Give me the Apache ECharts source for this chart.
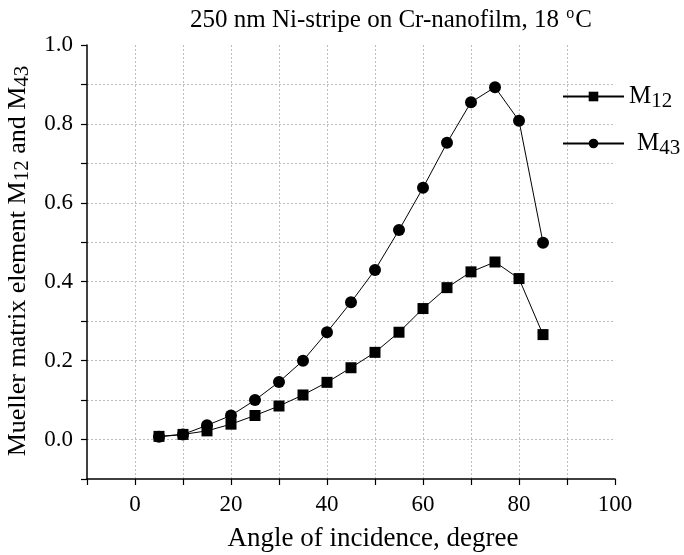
<!DOCTYPE html>
<html>
<head>
<meta charset="utf-8">
<script src="https://cdn.jsdelivr.net/npm/echarts@6/dist/echarts.min.js"></script>
<style>
  html, body { margin: 0; padding: 0; background: #fff; }
  #chart { width: 684px; height: 555px; }
</style>
</head>
<body>
<div id="chart"></div>
<script>
// angle of incidence, degree
const angles = [5, 10, 15, 20, 25, 30, 35, 40, 45, 50, 55, 60, 65, 70, 75, 80, 85];
// Mueller matrix elements
const m12 = [0.008, 0.013, 0.022, 0.039, 0.061, 0.085, 0.113, 0.145, 0.182, 0.221, 0.272, 0.332, 0.385, 0.425, 0.450, 0.408, 0.266];
const m43 = [0.007, 0.013, 0.036, 0.061, 0.100, 0.146, 0.200, 0.272, 0.348, 0.430, 0.531, 0.638, 0.752, 0.855, 0.893, 0.808, 0.499];

const font = "Liberation Serif";

function pairs(ys) {
  return angles.map((x, i) => [x, ys[i]]);
}

const chart = echarts.init(document.getElementById("chart"));
const option = {
  backgroundColor: "#fff",
  animation: false,
  title: {
    text: "250 nm Ni-stripe on Cr-nanofilm, 18 {sup|o}C",
    left: 386,
    top: 1,
    textAlign: "center",
    textStyle: {
      fontFamily: font,
      fontSize: 25,
      fontWeight: "normal",
      color: "#000",
      rich: {
        sup: { fontFamily: font, fontSize: 16, color: "#000", verticalAlign: "top", padding: [0, 1, 12, 1] }
      }
    }
  },
  legend: {
    orient: "vertical",
    left: 562,
    top: 84,
    padding: 0,
    itemWidth: 61,
    itemHeight: 12,
    itemGap: 19,
    data: ["M12", "M43"],
    formatter: function (name) {
      const sub = name.slice(1);
      return (name === "M43" ? "{p|}" : "") + "{m|M}{s|" + sub + "}";
    },
    textStyle: {
      fontFamily: font,
      color: "#000",
      rich: {
        p: { width: 8 },
        m: { fontFamily: font, fontSize: 25, color: "#000", lineHeight: 30 },
        s: { fontFamily: font, fontSize: 21, color: "#000", verticalAlign: "bottom", padding: [10, 0, 0, 0] }
      }
    }
  },
  grid: {
    left: 87,
    right: 69,
    top: 45,
    bottom: 76,
    outerBoundsMode: "none"
  },
  xAxis: {
    type: "value",
    min: -10,
    max: 100,
    interval: 10,
    name: "Angle of incidence, degree",
    nameLocation: "middle",
    nameGap: 46,
    nameTextStyle: { fontFamily: font, fontSize: 27, color: "#000", padding: [0, 0, 0, 44] },
    axisLine: { onZero: false, lineStyle: { color: "#000", width: 1.5 } },
    axisTick: { length: 6, lineStyle: { color: "#000", width: 1.2 } },
    axisLabel: {
      fontFamily: font,
      fontSize: 23,
      color: "#000",
      margin: 14,
      formatter: function (v) {
        return (v >= 0 && Math.round(v) % 20 === 0) ? String(v) : "";
      }
    },
    splitLine: {
      show: true,
      showMinLine: false,
      showMaxLine: false,
      lineStyle: { color: "#bdbdbd", type: [2, 2], width: 1 }
    }
  },
  yAxis: {
    type: "value",
    min: -0.1,
    max: 1.0,
    interval: 0.1,
    name: "{a|Mueller matrix element M}{s|12}{a| and M}{s|43}",
    nameLocation: "middle",
    nameRotate: 90,
    nameGap: 51,
    nameTextStyle: {
      color: "#000",
      padding: [0, 0, 0, 2],
      rich: {
        a: { fontFamily: font, fontSize: 26, color: "#000", lineHeight: 30 },
        s: { fontFamily: font, fontSize: 21, color: "#000", verticalAlign: "bottom", padding: [10, 0, 0, 0] }
      }
    },
    axisLine: { show: true, onZero: false, lineStyle: { color: "#000", width: 1.5 } },
    axisTick: { show: true, length: 6, lineStyle: { color: "#000", width: 1.2 } },
    axisLabel: {
      fontFamily: font,
      fontSize: 23,
      color: "#000",
      margin: 14,
      formatter: function (v) {
        const k = Math.round(v * 10);
        return (k >= 0 && k % 2 === 0) ? (k / 10).toFixed(1) : "";
      }
    },
    splitLine: {
      show: true,
      showMinLine: false,
      showMaxLine: false,
      lineStyle: { color: "#bdbdbd", type: [2, 2], width: 1 }
    }
  },
  series: [
    {
      name: "M12",
      type: "line",
      data: pairs(m12),
      symbol: "rect",
      symbolSize: 11,
      lineStyle: { color: "#000", width: 1 },
      itemStyle: { color: "#000" }
    },
    {
      name: "M43",
      type: "line",
      data: pairs(m43),
      symbol: "circle",
      symbolSize: 12,
      lineStyle: { color: "#000", width: 1 },
      itemStyle: { color: "#000" }
    }
  ]
};
chart.setOption(option);
</script>
</body>
</html>
